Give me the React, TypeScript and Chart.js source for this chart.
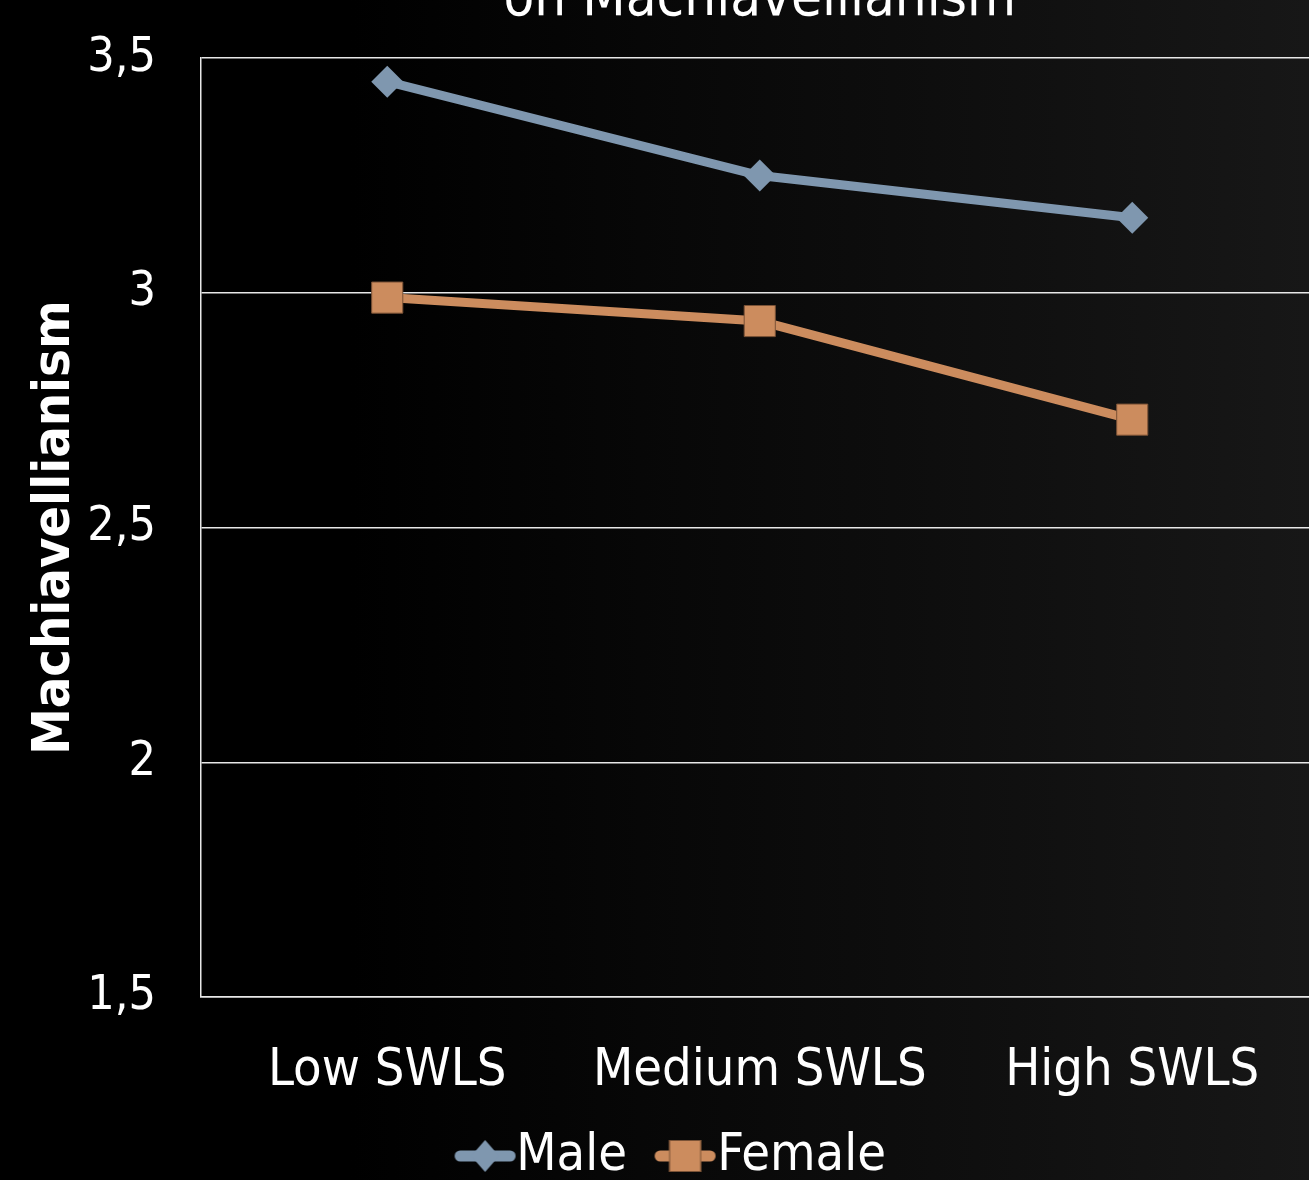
import React, { useEffect, useRef } from 'react';
import { Chart, registerables } from 'chart.js';

Chart.register(...registerables);

const categories = ['Low SWLS', 'Medium SWLS', 'High SWLS'];
const maleValues = [3.45, 3.25, 3.16];
const femaleValues = [2.99, 2.94, 2.73];
const yMin = 1.5;
const yMax = 3.5;
const yStep = 0.5;
const titleText = 'on Machiavellianism';
const yTitleText = 'Machiavellianism';
const seriesNames = ['Male', 'Female'];

const FONT = "'DejaVu Sans Condensed', 'DejaVu Sans', sans-serif";
const MALE = '#7f97af';
const FEMALE = '#cc8c5e';
const FEMALE_EDGE = '#7a5236';

const CH = 1272;
const PLOT_RIGHT = 1318.5;
const LEG_FONT = 52;
const LEG_PAD = 20;
const MALE_TEXT_X = 516;
const FEMALE_TEXT_X = 717;

function legendIcon(color: string, shape: 'diamond' | 'square', d: number): HTMLCanvasElement {
  const half = Math.abs(d) + 34;
  const c = document.createElement('canvas');
  c.width = Math.ceil(half * 2);
  c.height = 36;
  const g = c.getContext('2d')!;
  const cx = c.width / 2 + d;
  g.strokeStyle = color;
  g.lineWidth = 11;
  g.lineCap = 'round';
  g.beginPath();
  g.moveTo(cx - 25, 18);
  g.lineTo(cx + 25, 18);
  g.stroke();
  g.fillStyle = color;
  if (shape === 'diamond') {
    g.beginPath();
    g.moveTo(cx, 2);
    g.lineTo(cx + 14, 18);
    g.lineTo(cx, 34);
    g.lineTo(cx - 14, 18);
    g.closePath();
    g.fill();
  } else {
    g.fillRect(cx - 16, 2, 32, 32);
    g.strokeStyle = FEMALE_EDGE;
    g.lineWidth = 1;
    g.strokeRect(cx - 15.5, 2.5, 31, 31);
  }
  return c;
}

const bgPlugin = {
  id: 'bgGradient',
  beforeDraw(chart: any) {
    const ctx = chart.ctx;
    const grad = ctx.createLinearGradient(350, 0, 1309, 0);
    grad.addColorStop(0, '#000000');
    grad.addColorStop(1, '#171717');
    ctx.save();
    ctx.fillStyle = grad;
    ctx.fillRect(0, 0, chart.width, chart.height);
    ctx.restore();
  },
};

export default function App() {
  const ref = useRef<HTMLCanvasElement | null>(null);

  useEffect(() => {
    const canvas = ref.current;
    if (!canvas) return;

    // measure legend text to place legend entries
    const mctx = document.createElement('canvas').getContext('2d')!;
    mctx.font = `${LEG_FONT}px ${FONT}`;
    const tw1 = mctx.measureText(seriesNames[0]).width;
    const tw2 = mctx.measureText(seriesNames[1]).width;
    const halfF = LEG_FONT / 2;
    const bw = Math.max(4, FEMALE_TEXT_X - MALE_TEXT_X - LEG_PAD - halfF - tw1);
    const x1 = MALE_TEXT_X - bw - halfF;
    const w1 = bw + halfF + tw1;
    const w2 = bw + halfF + tw2;
    const CW = Math.round(2 * x1 + w1 + w2 + LEG_PAD);
    canvas.width = CW;
    canvas.height = CH;
    canvas.style.width = CW + 'px';
    canvas.style.height = CH + 'px';
    const dMale = 485 - (x1 + bw / 2);
    const dFemale = 685 - (x1 + w1 + LEG_PAD + bw / 2);
    const icons = [legendIcon(MALE, 'diamond', dMale), legendIcon(FEMALE, 'square', dFemale)];

    // pin the plot area horizontally after layout
    const areaPlugin = {
      id: 'pinArea',
      afterLayout(chart: any) {
        const ca = chart.chartArea;
        ca.right = PLOT_RIGHT;
        ca.width = ca.right - ca.left;
        const xs = chart.scales.x;
        xs.right = PLOT_RIGHT;
        xs.width = PLOT_RIGHT - xs.left;
        xs.configure();
        chart.scales.y.configure();
        const tb = chart.titleBlock;
        if (tb) {
          tb.left = ca.left;
          tb.right = PLOT_RIGHT;
          tb.width = PLOT_RIGHT - ca.left;
        }
      },
    };

    const chart = new Chart(canvas, {
      type: 'line',
      data: {
        labels: categories,
        datasets: [
          {
            label: seriesNames[0],
            data: maleValues,
            borderColor: MALE,
            backgroundColor: MALE,
            borderWidth: 9,
            pointStyle: 'rectRot',
            pointRadius: 16,
            pointBackgroundColor: MALE,
            pointBorderColor: MALE,
            pointBorderWidth: 0,
            tension: 0,
          },
          {
            label: seriesNames[1],
            data: femaleValues,
            borderColor: FEMALE,
            backgroundColor: FEMALE,
            borderWidth: 9,
            pointStyle: 'rect',
            pointRadius: 22,
            pointBackgroundColor: FEMALE,
            pointBorderColor: FEMALE_EDGE,
            pointBorderWidth: 1,
            tension: 0,
          },
        ],
      },
      options: {
        animation: false,
        responsive: false,
        devicePixelRatio: 1,
        layout: { padding: 0 },
        font: { family: FONT },
        plugins: {
          title: {
            display: true,
            text: titleText,
            color: '#ffffff',
            fullSize: false,
            font: { family: FONT, size: 56, weight: 'normal' },
            padding: { top: 47, bottom: 24 },
          },
          legend: {
            display: true,
            position: 'bottom',
            labels: {
              usePointStyle: true,
              pointStyleWidth: bw,
              boxHeight: 10,
              padding: LEG_PAD,
              color: '#ffffff',
              font: { family: FONT, size: LEG_FONT },
              generateLabels: (ch: any) =>
                ch.data.datasets.map((ds: any, i: number) => ({
                  text: ds.label,
                  pointStyle: icons[i],
                  fillStyle: ds.borderColor,
                  strokeStyle: ds.borderColor,
                  lineWidth: 0,
                  hidden: false,
                  datasetIndex: i,
                  fontColor: '#ffffff',
                })),
            },
          },
          tooltip: { enabled: false },
        },
        scales: {
          x: {
            type: 'category',
            offset: true,
            grid: { display: false, drawTicks: false },
            border: { display: true, color: '#e8e8e8', width: 1.5 },
            ticks: {
              color: '#ffffff',
              font: { family: FONT, size: 52 },
              padding: 43,
              maxRotation: 0,
              autoSkip: false,
            },
            afterFit: (s: any) => {
              s.height = 113;
              s.paddingLeft = 0;
              s.paddingRight = 0;
            },
          },
          y: {
            type: 'linear',
            position: 'left',
            min: yMin,
            max: yMax,
            grid: { color: '#e8e8e8', lineWidth: 1.5, drawTicks: false },
            border: { display: true, color: '#e8e8e8', width: 1.5 },
            ticks: {
              stepSize: yStep,
              color: '#ffffff',
              font: { family: FONT, size: 48 },
              padding: 45,
              callback: (v: any) => String(v).replace('.', ','),
            },
            title: {
              display: true,
              text: yTitleText,
              color: '#ffffff',
              font: { family: FONT, size: 52, weight: 'bold' },
              padding: { top: 24, bottom: 0 },
            },
            afterFit: (s: any) => {
              s.width = 201;
              s.paddingTop = 0;
              s.paddingBottom = 0;
            },
          },
        },
      },
      plugins: [bgPlugin, areaPlugin],
    } as any);
    return () => chart.destroy();
  }, []);

  return (
    <div
      style={{
        position: 'fixed',
        left: 0,
        top: 0,
        width: 1309,
        height: 1180,
        overflow: 'hidden',
        background: '#000',
      }}
    >
      <canvas ref={ref} style={{ position: 'absolute', left: 0, top: -80 }} />
    </div>
  );
}
